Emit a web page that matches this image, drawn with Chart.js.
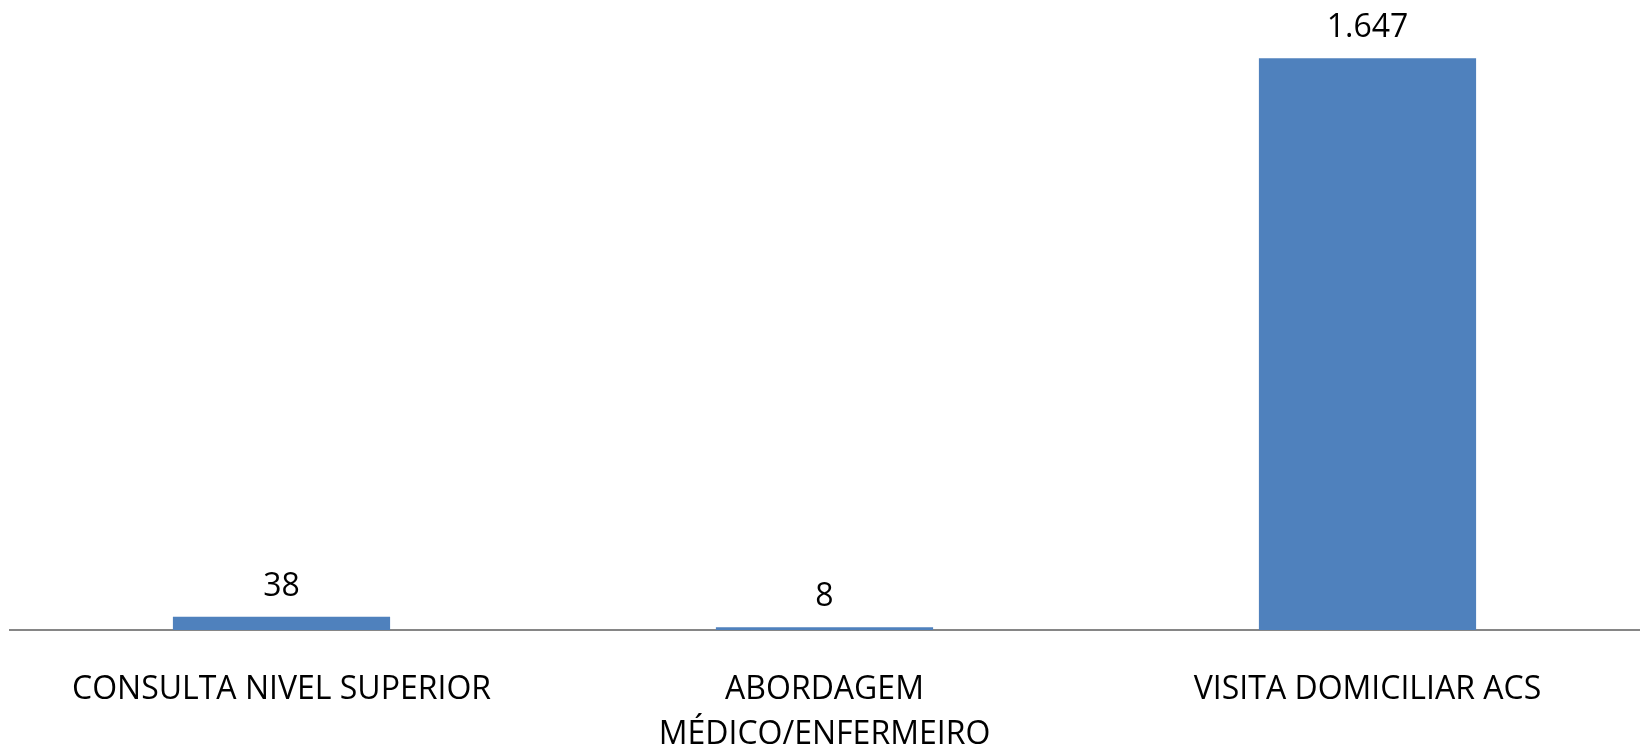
<!DOCTYPE html>
<html>
<head>
<meta charset="utf-8">
<script src="https://cdn.jsdelivr.net/npm/chart.js@4.4.1/dist/chart.umd.min.js"></script>
<style>
  html, body { margin: 0; padding: 0; background: #fff; }
  #wrap { width: 1644px; height: 754px; }
</style>
</head>
<body>
<div id="wrap"><canvas id="myChart1" width="1644" height="754"></canvas></div>
<script>
// categorias e valores do grafico
var categorias = ['CONSULTA NIVEL SUPERIOR', ['ABORDAGEM', 'MÉDICO/ENFERMEIRO'], 'VISITA DOMICILIAR ACS'];
var valores = [38, 8, 1647];

var fonte = "'Open Sans', 'DejaVu Sans', sans-serif";

function formatar(v) {
    // separador de milhar com ponto
    return String(v).replace(/\B(?=(\d{3})+(?!\d))/g, '.');
}

// rotulos em cima das barras
var rotulos = {
    id: 'rotulos',
    afterDatasetsDraw: function(chart) {
        var ctx = chart.ctx;
        var meta = chart.getDatasetMeta(0);
        ctx.save();
        ctx.font = '32px ' + fonte;
        ctx.fillStyle = '#000';
        ctx.textAlign = 'center';
        ctx.textBaseline = 'alphabetic';
        meta.data.forEach(function(bar, i) {
            ctx.fillText(formatar(valores[i]), bar.x, bar.y - 21);
        });
        ctx.restore();
    }
};

var ctx = document.getElementById("myChart1").getContext('2d');
var myChart = new Chart(ctx, {
    type: 'bar',
    data: {
        labels: categorias,
        datasets: [{
            label: 'atendimentos',
            data: valores,
            backgroundColor: '#4F81BD',
            barPercentage: 0.4,
            categoryPercentage: 1.0
        }]
    },
    options: {
        responsive: false,
        animation: false,
        layout: { padding: { left: 10, right: 5, top: 5, bottom: 0 } },
        plugins: {
            legend: { display: false },
            tooltip: { enabled: false }
        },
        scales: {
            x: {
                grid: { display: false, drawTicks: false },
                border: { display: true, color: '#868686', width: 2 },
                ticks: {
                    color: '#000',
                    font: { family: fonte, size: 32, lineHeight: 1.42 },
                    padding: 37,
                    maxRotation: 0,
                    autoSkip: false
                },
                afterFit: function(scale) { scale.height = 124; }
            },
            y: {
                display: false,
                min: 0,
                max: 1800
            }
        }
    },
    plugins: [rotulos]
});
</script>
</body>
</html>
